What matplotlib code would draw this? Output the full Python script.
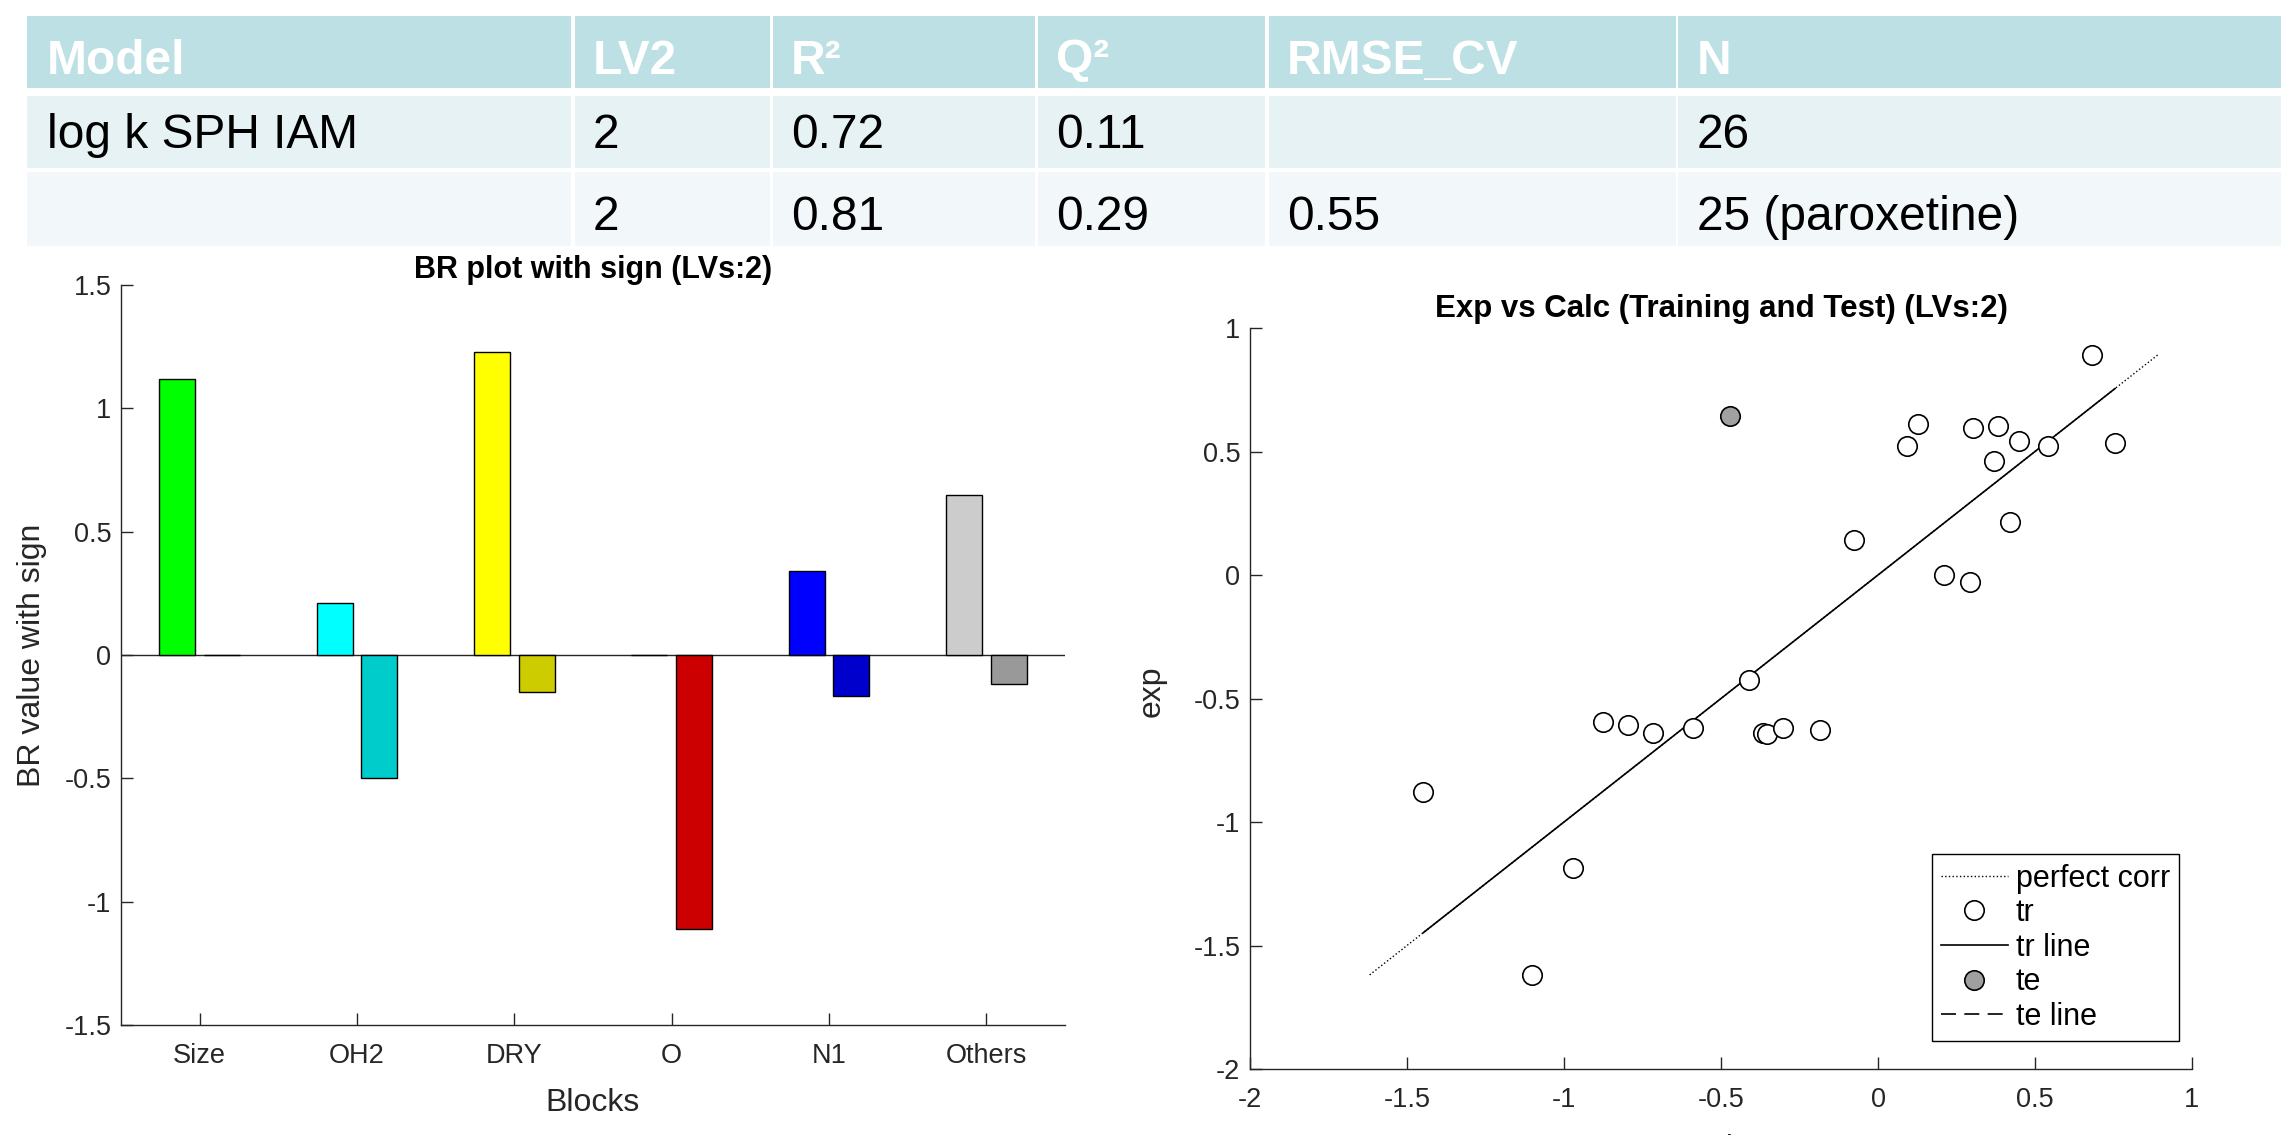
import numpy as np
import matplotlib
matplotlib.use("Agg")
import matplotlib.pyplot as plt
from matplotlib.patches import Rectangle
from matplotlib.ticker import FormatStrFormatter

plt.rcParams["font.family"] = ["Liberation Sans", "DejaVu Sans"]
plt.rcParams["axes.unicode_minus"] = False

# model summary table
table_header = ["Model", "LV2", "R²", "Q²", "RMSE_CV", "N"]
table_row1 = ["log k SPH IAM", "2", "0.72", "0.11", "", "26"]
table_row2 = ["", "2", "0.81", "0.29", "0.55", "25 (paroxetine)"]

# BR values per block, first and second latent variable
blocks = ["Size", "OH2", "DRY", "O", "N1", "Others"]
br_lv1 = [1.12, 0.21, 1.23, 0.0, 0.34, 0.65]
br_lv2 = [0.0, -0.50, -0.15, -1.11, -0.165, -0.117]
colors_lv1 = ["#00ff00", "#00ffff", "#ffff00", "#ff0000", "#0000ff", "#cccccc"]
colors_lv2 = ["#00cc00", "#00cccc", "#cccc00", "#cc0000", "#0000cc", "#999999"]

# calculated vs experimental values
calc_tr = [0.681, 0.128, 0.092, 0.301, 0.383, 0.450, 0.371, 0.541, 0.755, 0.419,
           -0.076, 0.210, 0.294, -0.410, -0.876, -0.797, -0.715, -0.588, -0.365,
           -0.352, -0.302, -0.184, -1.448, -0.970, -1.102]
exp_tr = [0.892, 0.612, 0.523, 0.594, 0.603, 0.541, 0.463, 0.523, 0.534, 0.213,
          0.142, 0.002, -0.030, -0.427, -0.596, -0.608, -0.640, -0.619, -0.638,
          -0.642, -0.619, -0.628, -0.878, -1.188, -1.619]
calc_te = [-0.472]
exp_te = [0.642]

W, H = 2281, 1135
fig = plt.figure(figsize=(W / 100, H / 100), dpi=100)


def fx(px):
    return px / W


def fy(py):
    return 1 - py / H


# table drawn straight onto the figure
col_edges = [27, 573, 771, 1036, 1267, 1677, 2283]
row_spans = [(16, 88), (96, 168), (172, 246)]
row_colors = ["#bce0e3", "#e7f2f4", "#f2f8fa"]
text_shift = [9, 3, 8]
rows = [table_header, table_row1, table_row2]

for r, (top, bot) in enumerate(row_spans):
    for c, label in enumerate(rows[r]):
        x0 = col_edges[c] + (1.5 if c > 0 else 0)
        x1 = col_edges[c + 1] - 1.5
        fig.add_artist(Rectangle((fx(x0), fy(bot)), fx(x1 - x0), (bot - top) / H,
                                 facecolor=row_colors[r], edgecolor="none"))
        if label:
            fig.text(fx(col_edges[c] + 20), fy((top + bot) / 2 + text_shift[r]), label,
                     va="center", ha="left", fontsize=34.5,
                     color="white" if r == 0 else "black",
                     fontweight="bold" if r == 0 else "normal")

axis_color = "#262626"

# left: BR plot
ax1 = fig.add_axes([fx(121), fy(1025), (1065 - 121) / W, (1025 - 285) / H])
x = np.arange(1, len(blocks) + 1)
offset = 1 / 7
width = 0.8 / 3.5
ax1.bar(x - offset, br_lv1, width, color=colors_lv1, edgecolor="black", linewidth=1, zorder=2)
ax1.bar(x + offset, br_lv2, width, color=colors_lv2, edgecolor="black", linewidth=1, zorder=2)
ax1.axhline(0, color=axis_color, linewidth=1, zorder=1)
ax1.set_xlim(0.5, 6.5)
ax1.set_ylim(-1.5, 1.5)
ax1.set_xticks(x)
ax1.set_xticklabels(blocks)
ax1.set_yticks(np.arange(-1.5, 1.51, 0.5))
ax1.yaxis.set_major_formatter(FormatStrFormatter("%g"))
ax1.set_title("BR plot with sign (LVs:2)", fontsize=22, fontweight="bold", pad=3)
ax1.set_xlabel("Blocks", fontsize=23, color=axis_color)
ax1.set_ylabel("BR value with sign", fontsize=23, color=axis_color)
ax1.xaxis.set_label_coords(0.5, -0.085)
ax1.yaxis.set_label_coords(-0.078, 0.5)

# right: experimental vs calculated
ax2 = fig.add_axes([fx(1250), fy(1069), 942 / W, 741 / H])
all_vals = calc_tr + exp_tr + calc_te + exp_te
lo, hi = min(all_vals), max(all_vals)
ax2.plot([lo, hi], [lo, hi], ":", color="black", linewidth=1, label="perfect corr")
ax2.plot(calc_tr, exp_tr, "o", linestyle="none", ms=14, mfc="white", mec="black",
         mew=1.2, label="tr", zorder=3)
tr_lo, tr_hi = min(calc_tr), max(calc_tr)
ax2.plot([tr_lo, tr_hi], [tr_lo, tr_hi], "-", color="black", linewidth=1.2, label="tr line")
ax2.plot(calc_te, exp_te, "o", linestyle="none", ms=14, mfc="#a0a0a0", mec="black",
         mew=1.2, label="te", zorder=3)
te_lo, te_hi = min(calc_te), max(calc_te)
ax2.plot([te_lo, te_hi], [te_lo, te_hi], color="black", linewidth=1.2, dashes=(9, 5),
         label="te line")
ax2.set_xlim(-2, 1)
ax2.set_ylim(-2, 1)
ax2.set_xticks(np.arange(-2, 1.01, 0.5))
ax2.set_yticks(np.arange(-2, 1.01, 0.5))
ax2.xaxis.set_major_formatter(FormatStrFormatter("%g"))
ax2.yaxis.set_major_formatter(FormatStrFormatter("%g"))
ax2.set_title("Exp vs Calc (Training and Test) (LVs:2)", fontsize=22.5, fontweight="bold", pad=8)
# the x label sits right at the bottom edge of the figure
ax2.set_xlabel("calc", fontsize=23, color=axis_color)
ax2.set_ylabel("exp", fontsize=23, color=axis_color)
ax2.xaxis.set_label_coords(0.5, -0.088)
ax2.yaxis.set_label_coords(-0.088, 0.51)

leg = ax2.legend(loc="lower right", bbox_to_anchor=((2179 - 1250) / 942, (1069 - 1041) / 741),
                 borderaxespad=0, fontsize=22, handlelength=2.2, handletextpad=0.25,
                 labelspacing=0.15, borderpad=0.3, fancybox=False, framealpha=1)
leg.get_frame().set_edgecolor("black")
leg.get_frame().set_linewidth(1)

for ax in (ax1, ax2):
    ax.spines["top"].set_visible(False)
    ax.spines["right"].set_visible(False)
    for side in ("left", "bottom"):
        ax.spines[side].set_color(axis_color)
        ax.spines[side].set_linewidth(1)
    ax.tick_params(direction="in", length=8.5, width=1, colors=axis_color, labelsize=19.5)
    ax.tick_params(axis="x", pad=13)
    ax.tick_params(axis="y", pad=7)

fig.savefig("out.png", dpi=100)
